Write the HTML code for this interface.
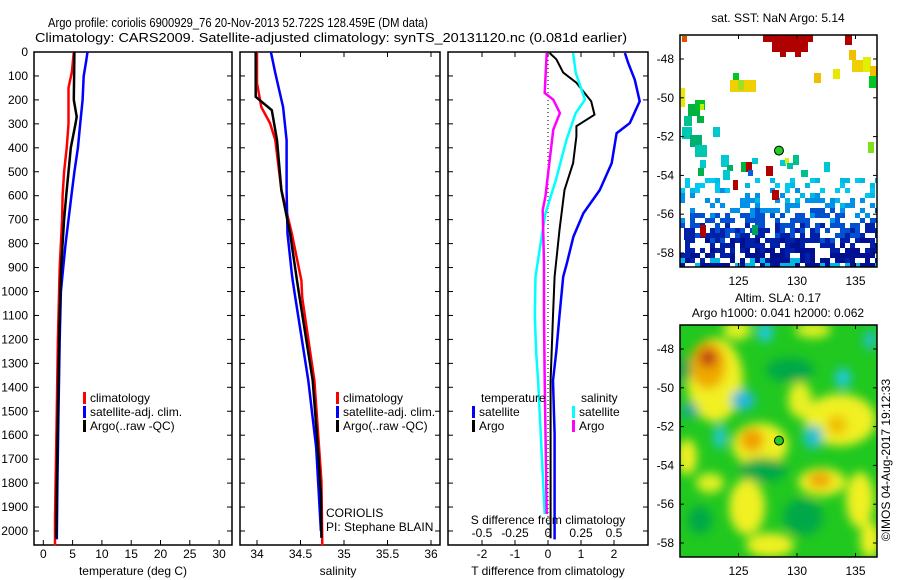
<!DOCTYPE html>
<html><head><meta charset="utf-8"><style>
html,body{margin:0;padding:0;background:#fff;}
svg{display:block;font-family:"Liberation Sans",sans-serif;font-size:12px;}
</style></head><body>
<svg id="fig" width="900" height="580" viewBox="0 0 900 580">
<defs>
<filter id="blur" x="-50%" y="-50%" width="200%" height="200%"><feGaussianBlur stdDeviation="5"/></filter>
<clipPath id="clipSla"><rect x="680" y="325" width="197" height="232"/></clipPath>
<clipPath id="clipSst"><rect x="680" y="35" width="197" height="232"/></clipPath>
</defs>
<text x="238" y="27" text-anchor="middle" textLength="380" lengthAdjust="spacingAndGlyphs" font-size="13">Argo profile: coriolis 6900929_76 20-Nov-2013 52.722S 128.459E (DM data)</text>
<text x="331" y="42" text-anchor="middle" textLength="592" lengthAdjust="spacingAndGlyphs" font-size="13">Climatology: CARS2009. Satellite-adjusted climatology: synTS_20131120.nc (0.081d earlier)</text>
<g id="panels"></g>
<g id="maps"></g>
</svg>
<script>
// ---------- DATA ----------
const depthTicks=[0,100,200,300,400,500,600,700,800,900,1000,1100,1200,1300,1400,1500,1600,1700,1800,1900,2000];
const tempTicks=[0,5,10,15,20,25,30];
const salTicks=[34,34.5,35,35.5,36];
const tdiffTicks=[-2,-1,0,1,2];
const sdiffTicks=[-0.5,-0.25,0,0.25,0.5];
const sdiffTickLabels=["-0.5","-0.25","0","0.25","0.5"];

const climTDepth=[0,80,150,300,400,500,600,700,800,900,1000,1200,1500,1800,1950,2060];
const climTVal=[5.2,4.9,4.3,4.3,4.0,3.55,3.3,3.2,3.0,2.8,2.7,2.5,2.3,2.1,2.0,2.0];
const satTDepth=[0,40,100,200,300,400,500,600,700,800,900,1000,1200,1500,1800,2035];
const satTVal=[7.55,7.3,6.9,6.7,6.3,5.9,5.3,4.8,4.3,3.8,3.4,3.0,2.8,2.6,2.4,2.3];
const argoTDepth=[0,200,270,300,400,500,600,700,800,900,1000,1200,1500,1800,2030];
const argoTVal=[5.3,5.2,5.7,5.5,4.7,4.3,3.9,3.55,3.3,3.05,2.9,2.7,2.5,2.3,2.2];

const climSDepth=[0,130,230,297,368,577,758,954,1025,1372,1791,2060];
const climSVal=[34.0,34.0,34.05,34.15,34.21,34.28,34.4,34.51,34.52,34.66,34.74,34.75];
const satSDepth=[0,88,230,368,577,758,925,954,1025,1372,1653,2000];
const satSVal=[34.16,34.21,34.3,34.34,34.34,34.35,34.4,34.41,34.44,34.59,34.68,34.735];
const argoSDepth=[0,187,243,368,577,758,954,1025,1372,1653,1849,2029];
const argoSVal=[33.985,33.985,34.17,34.23,34.28,34.38,34.46,34.49,34.64,34.70,34.735,34.74];

const tdSatDepth=[4,46,116,206,297,339,464,576,674,771,883,938,1100,1250,1372,1594,1929,2035];
const tdSatVal=[2.33,2.43,2.63,2.78,2.48,2.08,1.93,1.57,1.07,0.77,0.57,0.46,0.35,0.25,0.15,0.2,0.2,0.2];
const tdArgoDepth=[4,30,86,128,206,262,310,352,464,576,743,938,1100,1372,1929,2030];
const tdArgoVal=[0.05,0.25,0.46,0.86,1.31,1.41,0.86,0.86,0.76,0.5,0.35,0.2,0.15,0.08,0.08,0.08];
const sdSatDepth=[4,86,199,255,366,534,674,813,938,1100,1250,1372,1929];
const sdSatVal=[0.19,0.21,0.28,0.21,0.14,0.06,-0.02,-0.06,-0.095,-0.1,-0.09,-0.075,-0.025];
const sdArgoDepth=[4,171,199,255,324,464,604,660,883,1100,1372,1929];
const sdArgoVal=[-0.01,-0.025,0.04,0.09,0.04,0.01,-0.02,-0.04,-0.03,-0.03,-0.025,-0.01];

const latTicks=[-48,-50,-52,-54,-56,-58];
const lonTicks=[125,130,135];
const argoLon=128.459, argoLat=-52.722;

// ---------- AXES ----------
const TOP=52, BOT=545;
const yD=d=>TOP+d*0.2395;
const xT=t=>43.3+t*5.86;
const xS=s=>257+(s-34)*87;
const xTd=t=>548+t*33;
const xSd=s=>548+s*132;
const mapX=lon=>680+(lon-120)*11.7;
const mapY=(lat,oy)=>oy+59+(-48-lat)*19.4;

const NS='http://www.w3.org/2000/svg';
const G=document.getElementById('panels');
const M=document.getElementById('maps');
function mk(tag,attrs,parent){const e=document.createElementNS(NS,tag);for(const k in attrs)e.setAttribute(k,attrs[k]);(parent||G).appendChild(e);return e;}
function txt(x,y,s,anchor,parent){const t=mk('text',{x:x,y:y,'text-anchor':anchor||'start'},parent);t.textContent=s;return t;}
function stepPath(ds,vs,fx){let p='';for(let i=0;i<ds.length;i++){const x=fx(vs[i]).toFixed(1),y=yD(ds[i]).toFixed(1);p+=(i?'L':'M')+x+' '+y;}return p;}

function panel(x0,x1,name){
  const r=mk('rect',{x:x0,y:TOP,width:x1-x0,height:BOT-TOP,fill:'none',stroke:'#000','stroke-width':1.5});
  
  
  depthTicks.forEach(d=>{mk('line',{x1:x0,x2:x0+5,y1:yD(d),y2:yD(d),stroke:'#000'});mk('line',{x1:x1-5,x2:x1,y1:yD(d),y2:yD(d),stroke:'#000'});});
}
function series(ds,vs,fx,color,w,name){
  const p=mk('path',{d:stepPath(ds,vs,fx),fill:'none',stroke:color,'stroke-width':w,'stroke-linejoin':'miter'});
  
  
}
function legendEntry(x,y,color,label,name){
  const g=mk('g',{});
  
  
  mk('rect',{x:x,y:y-10,width:3,height:12,fill:color},g);
  txt(x+7,y,label,'start',g);
}

// Panel 1
panel(34,232,'temperature-panel');
depthTicks.forEach(d=>{const t=txt(28,yD(d)+4,String(d),'end');});
tempTicks.forEach(v=>{mk('line',{x1:xT(v),x2:xT(v),y1:BOT,y2:BOT-5,stroke:'#000'});const t=txt(xT(v),558,String(v),'middle');});
let at=txt(133,575,'temperature (deg C)','middle');
series(climTDepth,climTVal,xT,'#f00',2.5,'temp-climatology-line');
series(satTDepth,satTVal,xT,'#00f',2.5,'temp-satellite-line');
series(argoTDepth,argoTVal,xT,'#000',2.5,'temp-argo-line');
legendEntry(83,402,'#f00','climatology','legend-climatology');
legendEntry(83,416,'#00f','satellite-adj. clim.','legend-satellite');
legendEntry(83,430,'#000','Argo(..raw -QC)','legend-argo');

// Panel 2
panel(240,440,'salinity-panel');
salTicks.forEach(v=>{mk('line',{x1:xS(v),x2:xS(v),y1:BOT,y2:BOT-5,stroke:'#000'});mk('line',{x1:xS(v),x2:xS(v),y1:TOP,y2:TOP+5,stroke:'#000'});const t=txt(xS(v),558,String(v),'middle');});
at=txt(338,575,'salinity','middle');
series(climSDepth,climSVal,xS,'#f00',2.5,'sal-climatology-line');
series(satSDepth,satSVal,xS,'#00f',2.5,'sal-satellite-line');
series(argoSDepth,argoSVal,xS,'#000',2.5,'sal-argo-line');
legendEntry(336,402,'#f00','climatology','legend-climatology-2');
legendEntry(336,416,'#00f','satellite-adj. clim.','legend-satellite-2');
legendEntry(336,430,'#000','Argo(..raw -QC)','legend-argo-2');
at=txt(326,517,'CORIOLIS');
at=txt(326,531,'PI: Stephane BLAIN');

// Panel 3
panel(448,648,'difference-panel');
mk('line',{x1:548,x2:548,y1:TOP,y2:BOT,stroke:'#000','stroke-dasharray':'1,3'});
tdiffTicks.forEach(v=>{mk('line',{x1:xTd(v),x2:xTd(v),y1:BOT,y2:BOT-5,stroke:'#000'});const t=txt(xTd(v),558,v<0?'-'+Math.abs(v):String(v),'middle');});
sdiffTicks.forEach((v,i)=>{mk('line',{x1:xSd(v),x2:xSd(v),y1:TOP,y2:TOP+5,stroke:'#000'});const t=txt(xSd(v),537,sdiffTickLabels[i],'middle');});
series(tdSatDepth,tdSatVal,xTd,'#00f',2.5,'tdiff-satellite-line');
series(tdArgoDepth,tdArgoVal,xTd,'#000',2,'tdiff-argo-line');
series(sdSatDepth,sdSatVal,xSd,'#0ff',2.5,'sdiff-satellite-line');
series(sdArgoDepth,sdArgoVal,xSd,'#f0f',2.5,'sdiff-argo-line');
at=txt(548,524,'S difference from climatology','middle');
at=txt(548,575,'T difference from climatology','middle');
at=txt(481,402,'temperature');
at=txt(581,402,'salinity');
legendEntry(472,416,'#00f','satellite','legend-t-satellite');
legendEntry(472,430,'#000','Argo','legend-t-argo');
legendEntry(572,416,'#0ff','satellite','legend-s-satellite');
legendEntry(572,430,'#f0f','Argo','legend-s-argo');

// ---------- MAPS ----------
function mapFrame(oy,name){
  const r=mk('rect',{x:680,y:oy+35,width:197,height:232,fill:'none',stroke:'#000','stroke-width':1.5},M);
  
  
  latTicks.forEach(l=>{const y=mapY(l,oy);mk('line',{x1:680,x2:684,y1:y,y2:y,stroke:'#000'},M);mk('line',{x1:873,x2:877,y1:y,y2:y,stroke:'#000'},M);const t=txt(674,y+4,String(l),'end',M);});
  lonTicks.forEach(l=>{const x=mapX(l);mk('line',{x1:x,x2:x,y1:oy+263,y2:oy+267,stroke:'#000'},M);mk('line',{x1:x,x2:x,y1:oy+35,y2:oy+39,stroke:'#000'},M);const t=txt(x,oy+285,String(l),'middle',M);});
}
// SLA map (bottom)
const slaBg=mk('rect',{x:680,y:325,width:197,height:232,fill:'#20c820'},M);

const slaG=mk('g',{'clip-path':'url(#clipSla)'},M);
const blobsG=mk('g',{filter:'url(#blur)'},slaG);
const blobs=[
[715,380,28,42,'#f0f020'],[708,365,18,24,'#f0a800'],[708,358,9,9,'#c04010'],
[760,445,28,22,'#f0f020'],[752,440,12,12,'#f0a000'],
[822,482,24,14,'#f0f020'],[820,480,12,8,'#f0a000'],
[840,420,36,26,'#f0f020'],[837,425,10,10,'#f0c000'],
[687,457,10,18,'#f0f020'],[747,507,18,28,'#f0f020'],[860,500,14,28,'#f0f020'],
[770,545,24,12,'#f0f020'],[870,540,10,18,'#f0f020'],[710,483,14,10,'#e0f020'],
[737,330,14,10,'#e0f020'],[813,330,18,8,'#e0f020'],[800,400,12,18,'#e8f020'],
[763,470,24,12,'#00a848'],[803,517,20,18,'#00a848'],[683,370,8,14,'#00a848'],[790,370,24,12,'#00a848'],[700,520,12,14,'#00a848'],
[765,332,8,10,'#20c8e0'],[843,378,8,10,'#20c8e0'],[743,400,12,10,'#20b8e0'],[720,437,6,12,'#20c8e0'],[813,437,10,12,'#20c0d0'],[690,410,8,8,'#10a8a0'],[870,340,6,10,'#20c0d0']];
blobs.forEach(b=>mk('ellipse',{cx:b[0],cy:b[1],rx:b[2],ry:b[3],fill:b[4]},blobsG));
mapFrame(290,'sla-map');
let c=mk('circle',{cx:mapX(argoLon),cy:mapY(argoLat,290),r:4.5,fill:'#2c2',stroke:'#000'},M);


// SST map (top)
const sstG=mk('g',{'clip-path':'url(#clipSst)'},M);
const sstBlocks=[
[763,35,50,7,'#b00000'],[772,42,36,10,'#b00000'],[780,52,6,5,'#b00000'],[795,52,6,5,'#b00000'],[845,35,7,10,'#b00000'],
[682,36,5,6,'#e05000'],[849,50,7,10,'#f0c000'],[852,60,14,12,'#f0d000'],[863,57,8,15,'#e0f000'],[870,66,7,10,'#f0c000'],
[814,73,7,10,'#f0c000'],[833,69,7,10,'#e8e800'],[730,80,26,12,'#f0d000'],[733,73,6,7,'#00c820'],[738,80,6,10,'#a0e020'],
[681,88,4,19,'#e8e800'],[688,104,12,12,'#00b040'],[695,100,10,10,'#00c030'],[700,104,4,6,'#c0f000'],[697,116,7,7,'#00b040'],[869,76,7,12,'#00c820'],
[684,116,8,10,'#00c090'],[682,127,10,12,'#00c8b0'],[690,135,12,12,'#00b070'],[695,145,12,12,'#00c8b0'],[713,127,7,10,'#00c8d0'],
[700,160,6,8,'#00c8d0'],[698,168,6,8,'#00b050'],[721,155,8,12,'#00c8d0'],[727,165,6,6,'#00b060'],[752,158,6,6,'#00c8d0'],
[868,142,6,11,'#80e020'],[780,160,6,6,'#00c8e0'],[785,158,4,6,'#d0f000'],[787,163,6,6,'#00c0a0'],[793,155,6,10,'#00c090'],[801,170,7,7,'#00c090'],[824,162,6,10,'#00c8d0'],
[741,162,6,10,'#00b040'],[746,162,6,10,'#b00000'],[748,170,5,6,'#0060e0'],[766,166,7,10,'#b00000'],[723,170,7,10,'#00c8d0']];
sstBlocks.forEach(b=>mk('rect',{x:b[0],y:b[1],width:b[2],height:b[3],fill:b[4]},sstG));
// dense band texture (deterministic pattern)
const bandColors=['#00c8f0','#0090e8','#0050d0','#0020a8','#001090','#00b8e0'];
for(let gy=178;gy<267;gy+=5){
  for(let gx=680;gx<877;gx+=5){
    const h=Math.abs(Math.sin(gx*12.9898+gy*78.233)*43758.5453)%1;
    const depthFrac=(gy-178)/89;
    if(h<0.3+depthFrac*0.6){
      let ci=Math.min(5,Math.floor(depthFrac*4.2+h*1.8));
      if(depthFrac<0.3&&h<0.1)ci=5;
      mk('rect',{x:gx,y:gy,width:5,height:5,fill:bandColors[ci]},sstG);
    }
  }
}
[[733,180,5,10,'#b00000'],[700,225,6,12,'#b00000'],[772,190,7,10,'#b00000'],[684,228,6,12,'#0020a8'],[752,225,6,10,'#00a060']].forEach(b=>mk('rect',{x:b[0],y:b[1],width:b[2],height:b[3],fill:b[4]},sstG));
mapFrame(0,'sst-map');
c=mk('circle',{cx:mapX(argoLon),cy:mapY(argoLat,0),r:4.5,fill:'#2c2',stroke:'#000'},M);


at=txt(778,22,'sat. SST: NaN Argo: 5.14','middle',M);
at=txt(778,302,'Altim. SLA: 0.17','middle',M);
at=txt(778,317,'Argo h1000: 0.041 h2000: 0.062','middle',M);
at=txt(0,0,'©IMOS 04-Aug-2017 19:12:33','middle',M);at.setAttribute('transform','translate(890,460) rotate(-90)');
</script>
</body></html>
